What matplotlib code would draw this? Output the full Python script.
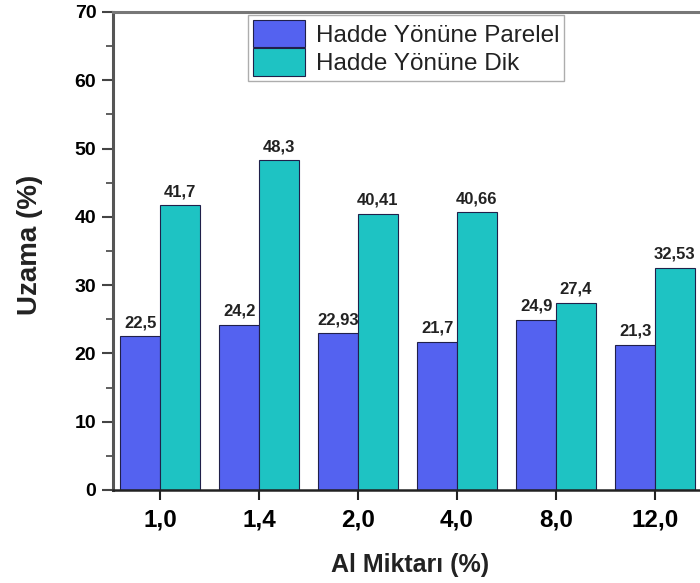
import numpy as np
import matplotlib.pyplot as plt

# veriler
kategoriler = ['1,0', '1,4', '2,0', '4,0', '8,0', '12,0']
paralel = [22.5, 24.2, 22.93, 21.7, 24.9, 21.3]
dik = [41.7, 48.3, 40.41, 40.66, 27.4, 32.53]
seriler = ['Hadde Yönüne Parelel', 'Hadde Yönüne Dik']

plt.rcParams['font.family'] = ['Liberation Sans', 'DejaVu Sans']

fig = plt.figure(figsize=(7, 5.83), dpi=100)
ax = fig.add_axes([113/700, 93/583, 592/700, 478/583])

x = np.arange(len(kategoriler))
w = 0.4
b1 = ax.bar(x - w/2, paralel, w, color='#5462F0', edgecolor='#20204a', linewidth=0.8, label=seriler[0])
b2 = ax.bar(x + w/2, dik, w, color='#1EC3C3', edgecolor='#20204a', linewidth=0.8, label=seriler[1])

# değer etiketleri
for bars, vals in [(b1, paralel), (b2, dik)]:
    for r, v in zip(bars, vals):
        ax.text(r.get_x() + r.get_width()/2, v + 0.9, str(v).replace('.', ','),
                ha='center', va='bottom', fontsize=12, fontweight='bold', color='#222222')

ax.set_xlim(-0.475, -0.475 + 592/99)
ax.set_ylim(0, 70)
ax.set_xticks(x)
ax.set_xticklabels(kategoriler, fontsize=17.5, fontweight='bold')
ax.set_yticks(np.arange(0, 71, 10))
ax.set_yticks(np.arange(0, 71, 5), minor=True)
for t in ax.get_yticklabels():
    t.set_fontsize(14)
    t.set_fontweight('bold')
ax.tick_params(axis='y', which='major', direction='out', length=8, width=1.5, color='#444444', pad=4)
ax.tick_params(axis='y', which='minor', direction='out', length=5, width=1.2, color='#444444')
ax.tick_params(axis='x', which='major', direction='out', length=7, width=1.5, color='#222222', pad=6)
ax.tick_params(axis='x', which='minor', bottom=False)

ax.spines['left'].set_linewidth(2.2)
ax.spines['left'].set_color('#555555')
ax.spines['top'].set_linewidth(2.2)
ax.spines['top'].set_color('#777777')
ax.spines['bottom'].set_linewidth(1.8)
ax.spines['bottom'].set_color('#222222')
ax.spines['right'].set_visible(False)

fig.text(30/700, 1 - 245/583, 'Uzama (%)', rotation=90, ha='center', va='center',
         fontsize=20, fontweight='bold', color='#222222')
fig.text(410/700, 1 - 565/583, 'Al Miktarı (%)', ha='center', va='center',
         fontsize=18, fontweight='bold', color='#222222')

leg = ax.legend(loc='upper left', bbox_to_anchor=(248/700, 1 - 15/583), bbox_transform=fig.transFigure,
                fontsize=17.5, frameon=True, fancybox=False, handlelength=2.15, handleheight=1.35,
                labelspacing=0.05, handletextpad=0.45, borderpad=0.2, borderaxespad=0)
leg.get_frame().set_edgecolor('#999999')
leg.get_frame().set_linewidth(1.0)
for t in leg.get_texts():
    t.set_color('#222222')

fig.savefig('out.png', dpi=100)
